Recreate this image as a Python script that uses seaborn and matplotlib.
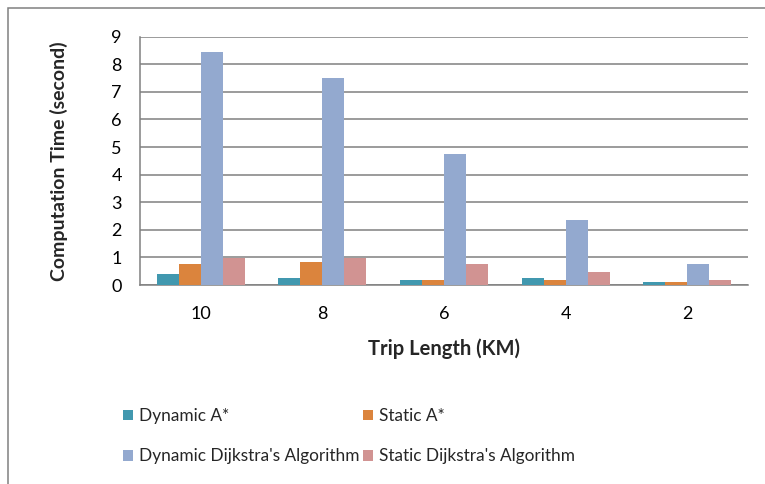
import matplotlib
matplotlib.use("Agg")
import matplotlib.pyplot as plt
from matplotlib.patches import Rectangle, Patch
from matplotlib.ticker import FixedLocator
import seaborn as sns
import pandas as pd

# Trip lengths (km) and computation time (seconds) per algorithm
trip_lengths = ["10", "8", "6", "4", "2"]
dynamic_a_star = [0.40, 0.25, 0.18, 0.25, 0.11]
static_a_star = [0.76, 0.83, 0.18, 0.18, 0.11]
dynamic_dijkstra = [8.45, 7.50, 4.75, 2.36, 0.76]
static_dijkstra = [0.99, 0.99, 0.76, 0.47, 0.18]

series_names = ["Dynamic A*", "Static A*",
                "Dynamic Dijkstra's Algorithm", "Static Dijkstra's Algorithm"]
series_values = [dynamic_a_star, static_a_star, dynamic_dijkstra, static_dijkstra]
colors = ["#4198AF", "#DB843D", "#93A9CF", "#D19392"]

rows = []
for name, vals in zip(series_names, series_values):
    for t, v in zip(trip_lengths, vals):
        rows.append({"Trip Length (KM)": t, "Time": v, "Series": name})
df = pd.DataFrame(rows)

sns.set_style("white")
plt.rcParams["font.family"] = ["Lato", "DejaVu Sans"]

fig = plt.figure(figsize=(7.65, 4.84), dpi=100)
ax = fig.add_axes([140 / 765, 1 - 285 / 484, (748 - 140) / 765, (285 - 36.67) / 484])

sns.barplot(data=df, x="Trip Length (KM)", y="Time", hue="Series",
            order=trip_lengths, hue_order=series_names,
            palette=colors, width=0.724, gap=0, saturation=1,
            linewidth=0, edgecolor="none",
            ax=ax, legend=False, zorder=3)

grid_color = "#808080"
ax.set_ylim(0, 9)
ax.set_xlim(-0.5, len(trip_lengths) - 0.5)
ax.set_yticks(range(0, 10))
ax.yaxis.grid(True, color=grid_color, linewidth=1.1, zorder=0)
ax.set_axisbelow(True)

for side in ["top", "right"]:
    ax.spines[side].set_visible(False)
for side in ["left", "bottom"]:
    ax.spines[side].set_color(grid_color)
    ax.spines[side].set_linewidth(1.1)

ax.tick_params(axis="y", which="major", direction="out", length=5,
               width=1.1, color=grid_color, labelsize=13, pad=8,
               labelcolor="black")
ax.tick_params(axis="x", which="major", length=0, labelsize=13, pad=15,
               labelcolor="black")
ax.xaxis.set_minor_locator(FixedLocator([i - 0.5 for i in range(len(trip_lengths) + 1)]))
ax.tick_params(axis="x", which="minor", direction="out", length=5,
               width=1.1, color=grid_color)

ax.set_xlabel("Trip Length (KM)", fontsize=14.5, fontweight="bold", labelpad=12)
ax.set_ylabel("Computation Time (second)", fontsize=14, fontweight="bold", labelpad=31)

# legend laid out row by row
handles = [Patch(facecolor=c, edgecolor="none") for c in colors]
order = [0, 2, 1, 3]
fig.legend([handles[i] for i in order], [series_names[i] for i in order],
           ncol=2, loc="upper left", bbox_to_anchor=(111 / 765, 1 - 396 / 484),
           frameon=False, fontsize=12.4, handlelength=0.6, handleheight=0.6,
           handletextpad=0.35, columnspacing=0.15, labelspacing=1.4,
           borderpad=0.2)

# chart frame
fig.patches.append(Rectangle((8 / 765, -0.1), 1.2, 1 - 8 / 484 + 0.1,
                             transform=fig.transFigure, fill=False,
                             edgecolor=grid_color, linewidth=1.1))

fig.savefig("out.png", dpi=100)
